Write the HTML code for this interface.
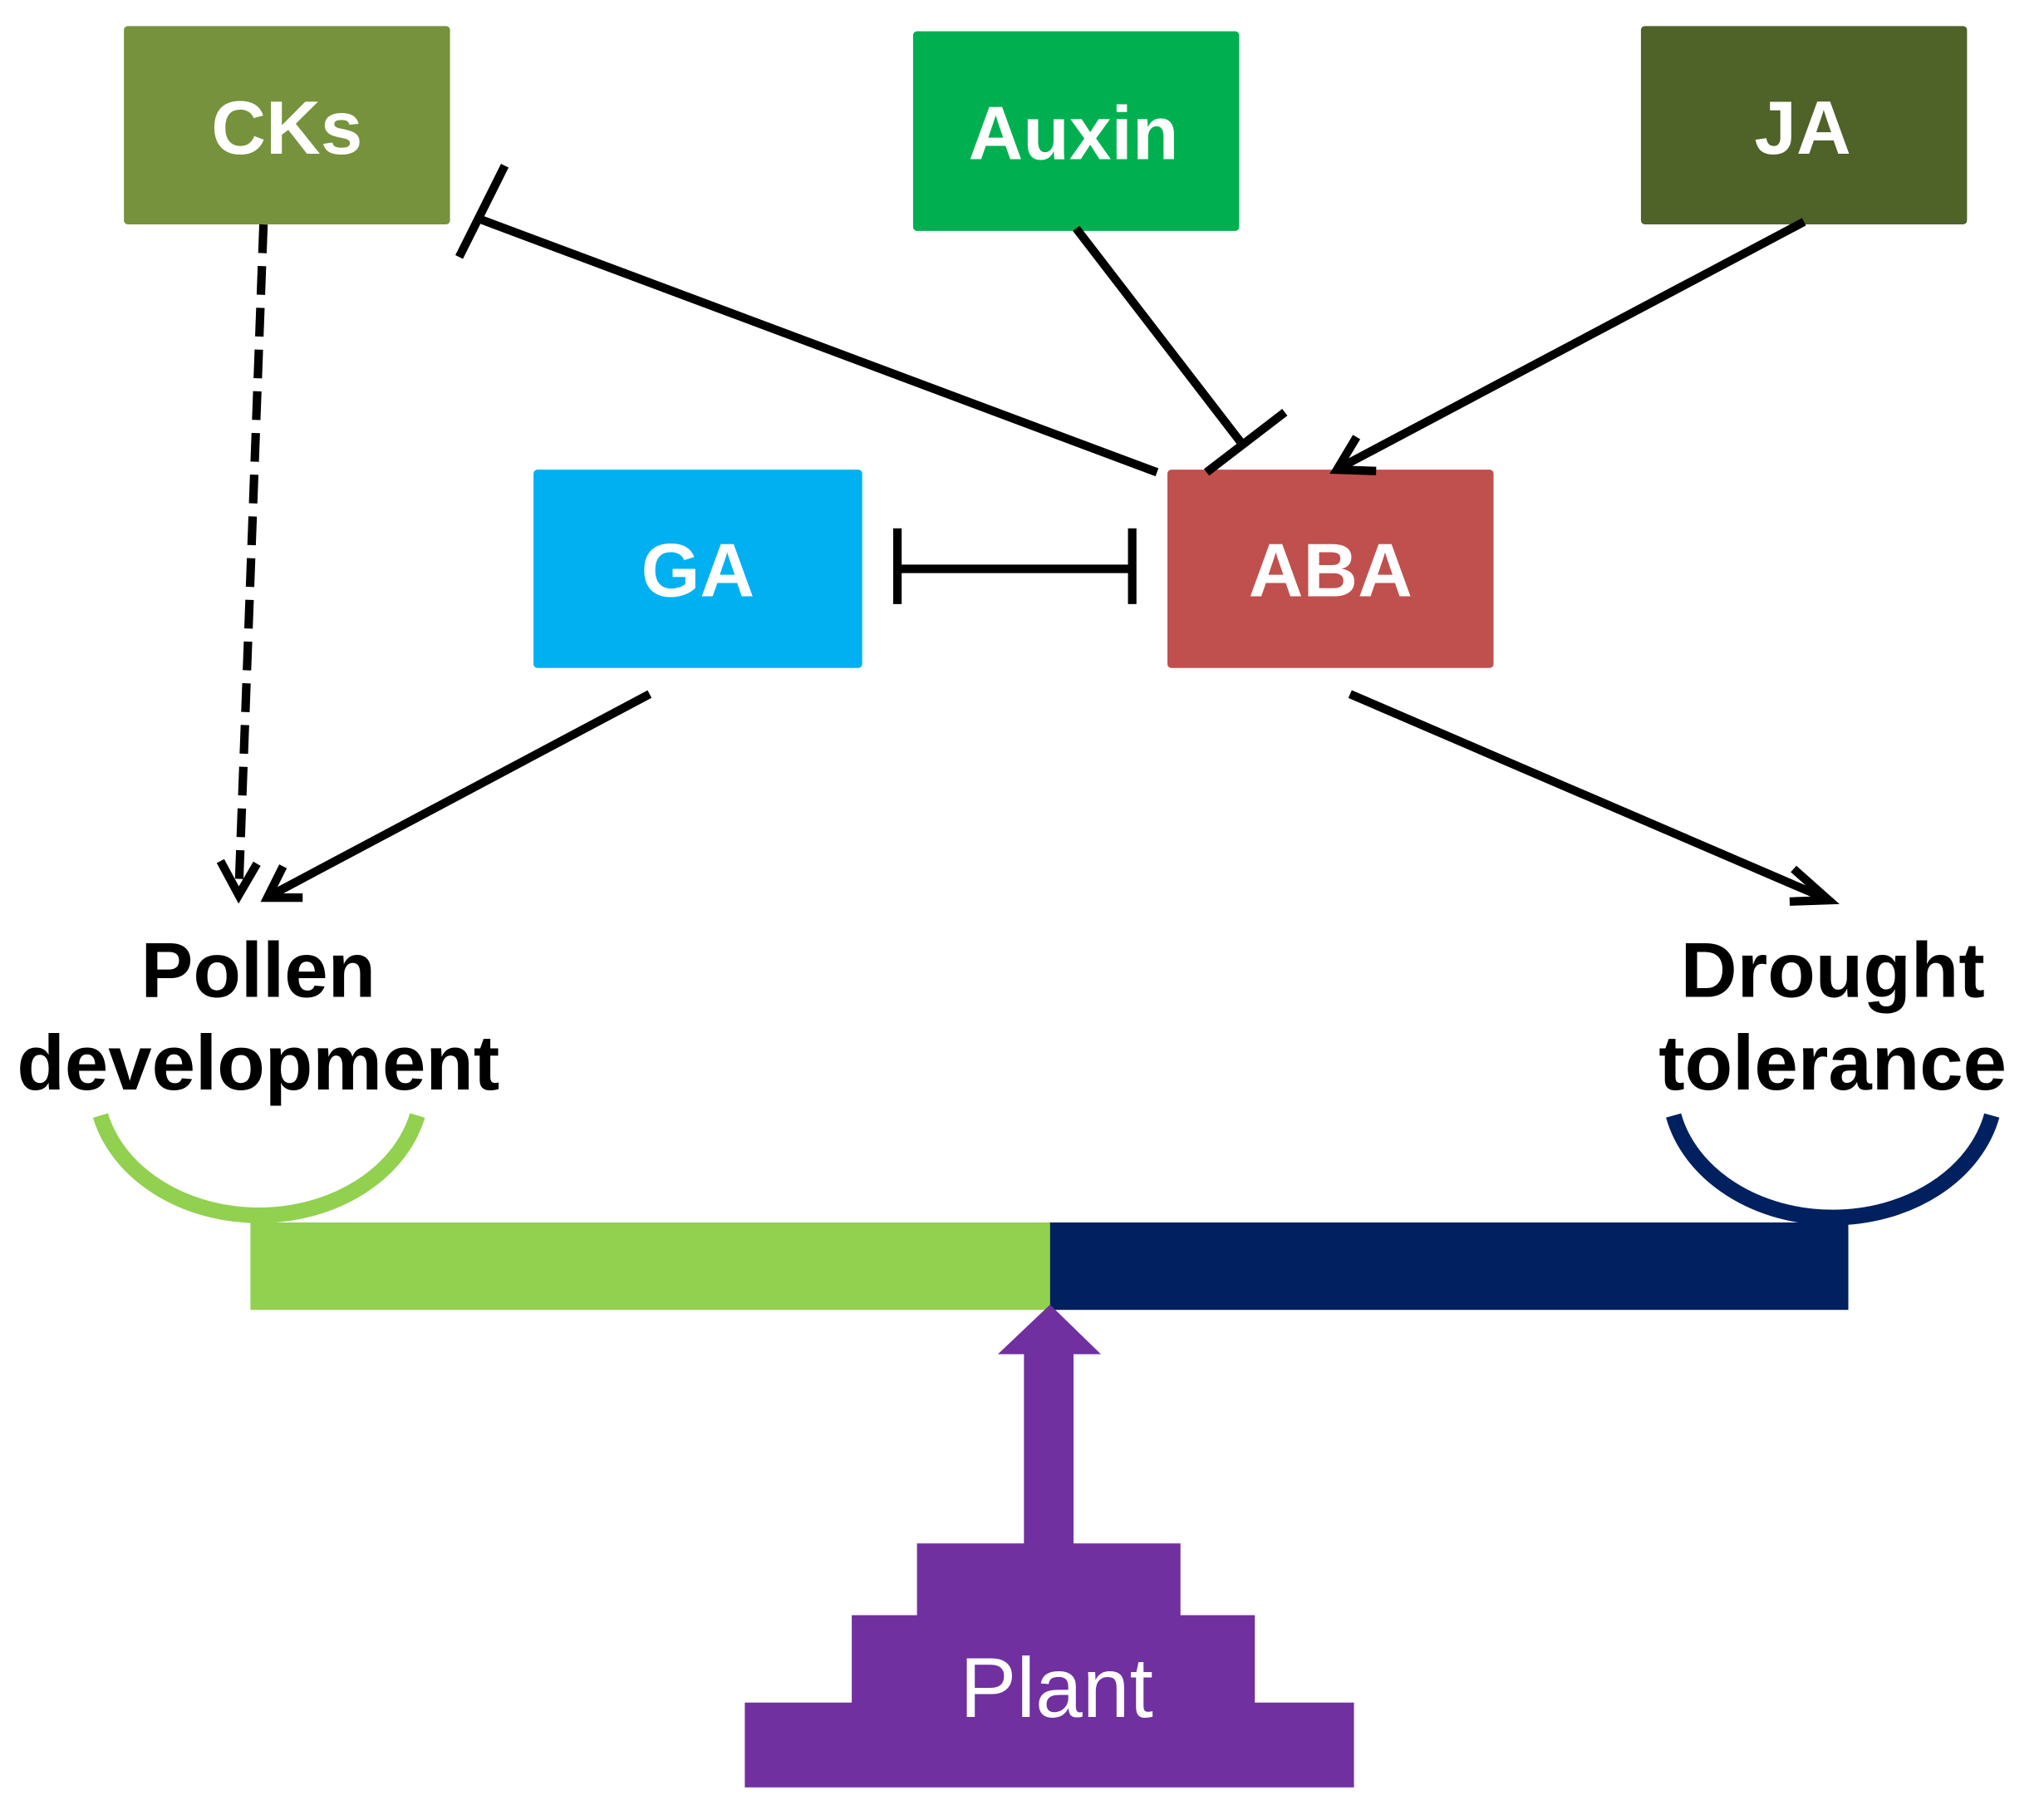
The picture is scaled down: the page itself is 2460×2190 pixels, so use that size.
<!DOCTYPE html>
<html><head><style>html,body{margin:0;padding:0;background:#fff;}svg{display:block}</style></head>
<body>
<svg width="2460" height="2190" viewBox="0 0 1567 1395" preserveAspectRatio="none" xmlns="http://www.w3.org/2000/svg" font-family="Liberation Sans, sans-serif">
<g font-weight="bold" fill="#fff" font-size="58" text-anchor="middle">
<rect x="95" y="20" width="250" height="152" rx="3" fill="#76923c"/>
<text x="220" y="118">CKs</text>
<rect x="700" y="24" width="250" height="153" rx="3" fill="#00b050"/>
<text x="823" y="122">Auxin</text>
<rect x="1258" y="20" width="250" height="152" rx="3" fill="#4f6228"/>
<text x="1382" y="118">JA</text>
<rect x="409" y="360" width="252" height="152" rx="3" fill="#00b0f0"/>
<text x="535" y="457">GA</text>
<rect x="895" y="360" width="250" height="152" rx="3" fill="#c0504d"/>
<text x="1020" y="457">ABA</text>
</g>
<g stroke="#000" stroke-width="6.5" fill="none">
<line x1="887" y1="362" x2="368" y2="168"/>
<line x1="352" y1="197" x2="387" y2="127"/>
<line x1="825" y1="175" x2="952" y2="340"/>
<line x1="925" y1="362" x2="985" y2="316"/>
<line x1="1383" y1="170" x2="1030" y2="357"/>
<polyline points="1040,335 1025,360 1055,361"/>
<line x1="688" y1="436" x2="868" y2="436"/>
<line x1="688" y1="405" x2="688" y2="463"/>
<line x1="868" y1="405" x2="868" y2="463"/>
<line x1="202" y1="172" x2="183" y2="684" stroke-dasharray="22,10"/>
<polyline points="169,660 183,686 197,662"/>
<line x1="498" y1="532" x2="208" y2="686"/>
<polyline points="217,664 205,688 232,688"/>
<line x1="1035" y1="532" x2="1398" y2="688"/>
<polyline points="1375,666 1402,690 1372,691"/>
</g>
<g font-weight="bold" fill="#000" font-size="60" text-anchor="middle">
<text x="198" y="764">Pollen</text>
<text x="198" y="835">development</text>
<text x="1405" y="764">Drought</text>
<text x="1405" y="835">tolerance</text>
</g>
<path d="M77,855 A 125,100 0 0 0 320,855" stroke="#92d050" stroke-width="12" fill="none"/>
<path d="M1283,855 A 125,100 0 0 0 1527,855" stroke="#002060" stroke-width="12" fill="none"/>
<rect x="192" y="937" width="613" height="67" fill="#92d050"/>
<rect x="805" y="937" width="612" height="67" fill="#002060"/>
<g fill="#7030a0">
<rect x="785" y="1036" width="38" height="150"/>
<polygon points="765,1038 844,1038 805,1000"/>
<rect x="703" y="1183" width="202" height="60"/>
<rect x="653" y="1238" width="309" height="70"/>
<rect x="571" y="1305" width="467" height="65"/>
</g>
<text x="810" y="1316" fill="#fff" font-size="65" text-anchor="middle">Plant</text>
</svg>
</body></html>
